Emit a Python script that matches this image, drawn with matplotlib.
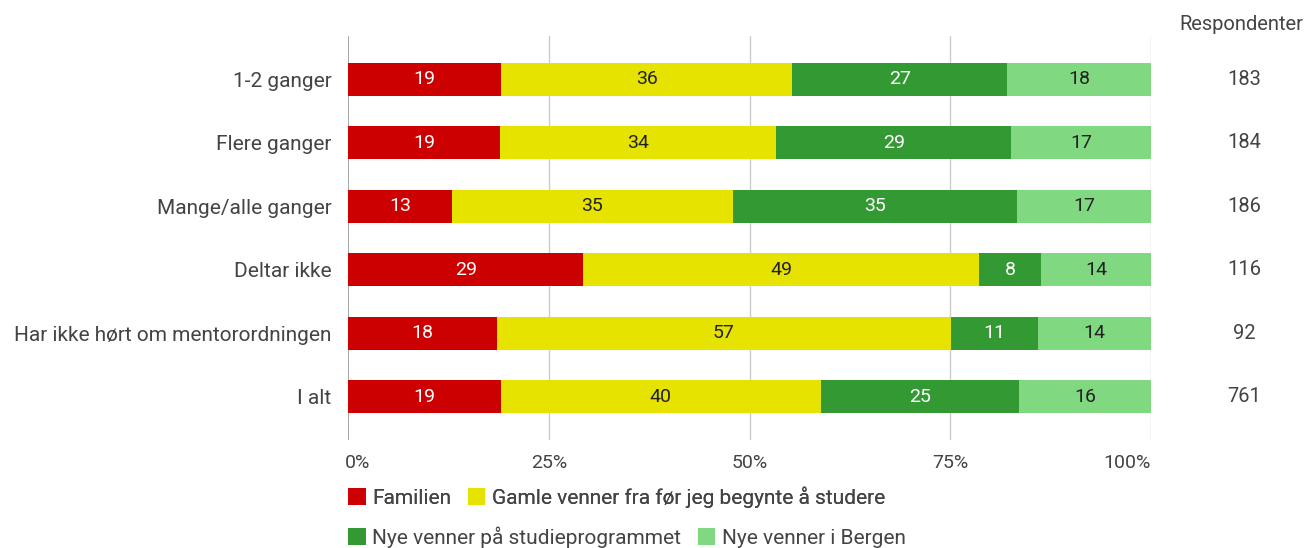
import matplotlib
matplotlib.use("Agg")
import matplotlib.pyplot as plt
import numpy as np

plt.rcParams['font.family'] = ['Roboto', 'DejaVu Sans']

categories = ["1-2 ganger", "Flere ganger", "Mange/alle ganger", "Deltar ikke",
              "Har ikke hørt om mentorordningen", "I alt"]
series_names = ["Familien", "Gamle venner fra før jeg begynte å studere",
                "Nye venner på studieprogrammet", "Nye venner i Bergen"]
familien = [19.1, 18.9, 12.9, 29.3, 18.5, 19.0]
gamle = [36.2, 34.4, 35.0, 49.3, 56.6, 39.9]
nye_studie = [26.8, 29.3, 35.4, 7.7, 10.8, 24.7]
nye_bergen = [18.0, 17.4, 16.7, 13.7, 14.1, 16.4]
labels = [
    [19, 19, 13, 29, 18, 19],
    [36, 34, 35, 49, 57, 40],
    [27, 29, 35, 8, 11, 25],
    [18, 17, 17, 14, 14, 16],
]
respondenter = [183, 184, 186, 116, 92, 761]
xticks = [0, 25, 50, 75, 100]
xticklabels = ["0%", "25%", "50%", "75%", "100%"]

colors = ["#cc0000", "#e6e300", "#339933", "#80d880"]
text_colors = ["white", "#222222", "white", "#222222"]

W, H = 1309, 548
fig = plt.figure(figsize=(W / 100, H / 100), dpi=100)
left, right, top, bottom = 348, 1151, 36, 440
ax = fig.add_axes([left / W, 1 - bottom / H, (right - left) / W, (bottom - top) / H])

y = np.arange(len(categories))
data = [familien, gamle, nye_studie, nye_bergen]
cum = np.zeros(len(categories))
bars = []
for i, vals in enumerate(data):
    b = ax.barh(y, vals, left=cum, height=0.52, color=colors[i], label=series_names[i], zorder=3)
    bars.append(b)
    for j, v in enumerate(vals):
        ax.text(cum[j] + v / 2, y[j], str(labels[i][j]), ha="center", va="center",
                color=text_colors[i], fontsize=14, zorder=4)
    cum += np.array(vals)

ax.set_xlim(0, 100)
ax.set_ylim(len(categories) - 1 + 0.68, -0.68)
for s in ax.spines.values():
    s.set_visible(False)
for xt in xticks:
    ax.axvline(xt, color="#cccccc" if xt != 0 else "#999999", lw=1.2 if xt == 0 else 1.0, zorder=1)
ax.set_xticks([])
ax.set_yticks(y)
ax.set_yticklabels(categories, fontsize=15, color="#444444")
ax.tick_params(axis="y", length=0, pad=12)

for xt, lab in zip(xticks, xticklabels):
    ha = "left" if xt == 0 else ("right" if xt == 100 else "center")
    ax.text(xt + (-0.4 if xt == 0 else 0), (len(categories) - 1 + 0.68) + 0.36, lab, ha=ha, va="center",
            fontsize=14, color="#444444")

# Respondenter column
fig.text(1241 / W, 1 - 25 / H, "Respondenter", ha="center", va="center", fontsize=14.5, color="#444444")
for j, r in enumerate(respondenter):
    ax.text(111.6, y[j], str(r), ha="center", va="center", fontsize=14.5, color="#444444", clip_on=False)

# Legends (two rows)
handles = bars
common = dict(loc="center left", ncol=2, frameon=False, fontsize=15, handlelength=0.85,
              handleheight=0.85, handletextpad=0.3, columnspacing=0.8,
              labelcolor="#444444", borderaxespad=0, borderpad=0)
leg1 = fig.legend(handles[:2], series_names[:2], bbox_to_anchor=(348 / W, 1 - 497 / H), **common)
leg2 = fig.legend(handles[2:], series_names[2:], bbox_to_anchor=(348 / W, 1 - 537 / H), **common)
fig.add_artist(leg1)

fig.savefig("out.png", dpi=100)
